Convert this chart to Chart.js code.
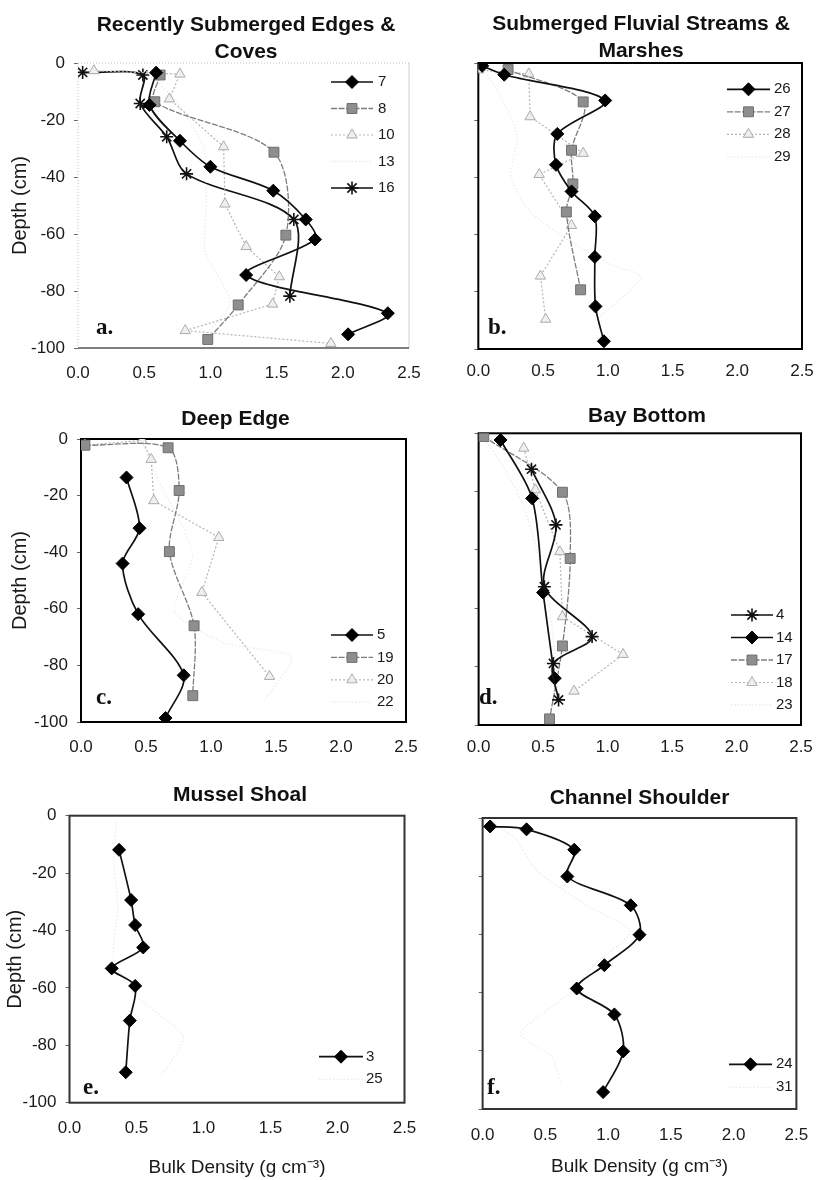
<!DOCTYPE html>
<html><head><meta charset="utf-8">
<script src="https://cdn.jsdelivr.net/npm/chart.js@4.4.1/dist/chart.umd.min.js"></script>
<style>
html,body{margin:0;padding:0;background:#fff;overflow:hidden;}
#wrap{position:relative;width:817px;height:1180px;overflow:hidden;background:#fff;}
canvas{position:absolute;}
</style></head><body><div id="wrap"></div>
<script>
// ---------- DATA ----------
const xTickValues = [0, 0.5, 1, 1.5, 2, 2.5];
const xTickLabels = ['0.0', '0.5', '1.0', '1.5', '2.0', '2.5'];
const yTickValues = [0, -20, -40, -60, -80, -100];
const yTickLabels = ['0', '-20', '-40', '-60', '-80', '-100'];
const yAxisTitle = 'Depth (cm)';
const xAxisTitle = 'Bulk Density (g cm⁻³)';

const titleA = ['Recently Submerged Edges &', 'Coves'];
const titleB = ['Submerged Fluvial Streams &', 'Marshes'];
const titleC = ['Deep Edge'];
const titleD = ['Bay Bottom'];
const titleE = ['Mussel Shoal'];
const titleF = ['Channel Shoulder'];

// [bulk density, depth]
// a. Recently Submerged Edges & Coves
const site7  = [[0.59,-3.4],[0.54,-14.7],[0.77,-27.3],[1.00,-36.4],[1.475,-44.8],[1.72,-54.9],[1.79,-61.9],[1.27,-74.4],[2.34,-87.8],[2.04,-95.2]];
const site8  = [[0.62,-4.2],[0.58,-13.6],[1.48,-31.3],[1.57,-60.4],[1.21,-84.9],[0.98,-97.0]];
const site10 = [[0.12,-2.7],[0.77,-3.9],[0.69,-12.6],[1.10,-29.4],[1.11,-49.5],[1.27,-64.4],[1.52,-75.0],[1.47,-84.6],[0.81,-93.9],[1.91,-98.4]];
const site13 = [[0.50,-2.0],[0.75,-14.0],[0.95,-30.0],[0.97,-48.0],[0.96,-66.0],[1.15,-84.0],[0.95,-96.0]];
const site16 = [[0.035,-3.3],[0.49,-4.2],[0.47,-14.2],[0.67,-25.9],[0.82,-38.9],[1.63,-54.9],[1.60,-81.8]];
// b. Submerged Fluvial Streams & Marshes
const site26 = [[0.03,-1.0],[0.20,-4.1],[0.98,-13.1],[0.61,-24.8],[0.60,-35.6],[0.72,-44.9],[0.90,-53.6],[0.90,-67.8],[0.905,-85.1],[0.97,-97.3]];
const site27 = [[0.23,-2.3],[0.81,-13.6],[0.72,-30.5],[0.73,-42.3],[0.68,-52.1],[0.79,-79.3]];
const site28 = [[0.00,-2.4],[0.39,-3.8],[0.40,-18.8],[0.81,-31.6],[0.47,-39.0],[0.72,-56.8],[0.48,-74.5],[0.52,-89.6]];
const site29 = [[0.02,-1.0],[0.15,-10.0],[0.30,-25.0],[0.25,-40.0],[0.40,-52.0],[0.70,-62.0],[1.00,-70.0],[1.26,-75.0],[0.90,-90.0]];
// c. Deep Edge
const site5  = [[0.35,-13.6],[0.45,-31.5],[0.32,-44.0],[0.44,-61.9],[0.79,-83.5],[0.65,-98.6]];
const site19 = [[0.03,-2.2],[0.67,-3.1],[0.755,-18.2],[0.68,-39.8],[0.87,-66.0],[0.86,-90.7]];
const site20 = [[0.03,-2.2],[0.47,-0.5],[0.54,-7.2],[0.56,-21.8],[1.06,-34.8],[0.93,-54.2],[1.45,-83.9]];
const site22 = [[0.47,-0.9],[0.60,-15.0],[0.75,-28.0],[0.86,-41.0],[0.72,-61.0],[1.10,-72.0],[1.62,-77.0],[1.40,-93.0]];
// d. Bay Bottom
const site4  = [[0.41,-12.3],[0.60,-31.4],[0.51,-52.6],[0.88,-69.7],[0.58,-78.9],[0.62,-91.4]];
const site14 = [[0.17,-2.3],[0.415,-22.3],[0.50,-54.6],[0.59,-84.0]];
const site17 = [[0.04,-1.1],[0.65,-20.2],[0.71,-42.9],[0.65,-72.9],[0.55,-97.9]];
const site18 = [[0.35,-5.1],[0.44,-19.4],[0.63,-40.6],[0.65,-62.9],[1.12,-75.8],[0.74,-88.4]];
const site23 = [[0.03,-1.0],[0.20,-12.0],[0.35,-25.0],[0.45,-40.0],[0.55,-60.0],[0.60,-80.0],[0.62,-95.0]];
// e. Mussel Shoal
const site3  = [[0.37,-11.9],[0.46,-29.4],[0.49,-38.1],[0.55,-45.9],[0.315,-53.2],[0.49,-59.3],[0.45,-71.4],[0.42,-89.4]];
const site25 = [[0.35,-2.0],[0.33,-15.0],[0.36,-32.0],[0.33,-50.0],[0.50,-63.0],[0.85,-77.0],[0.68,-91.0]];
// f. Channel Shoulder
const site24 = [[0.06,-2.9],[0.35,-3.9],[0.73,-10.9],[0.675,-20.1],[1.18,-30.0],[1.25,-40.1],[0.97,-50.6],[0.75,-58.6],[1.05,-67.5],[1.12,-80.2],[0.96,-94.2]];
const site31 = [[0.05,-1.0],[0.26,-7.0],[0.43,-18.0],[0.83,-30.0],[1.18,-39.0],[0.90,-50.0],[0.70,-60.0],[0.30,-74.0],[0.55,-82.0],[0.63,-92.0]];

// ---------- STYLES ----------
const FONT = '"Liberation Sans", Arial, Helvetica, sans-serif';
Chart.defaults.font.family = FONT;
Chart.defaults.color = '#1a1a1a';

const STYLE = {
  diamond:  {borderColor:'#111', borderWidth:1.7, pointStyle:'rectRot', pointRadius:6.5, pointBackgroundColor:'#000', pointBorderColor:'#000', pointBorderWidth:1, tension:0.3},
  star:     {borderColor:'#111', borderWidth:1.7, pointStyle:'star', pointRadius:6.5, pointBackgroundColor:'#111', pointBorderColor:'#111', pointBorderWidth:1.6, tension:0.3},
  square:   {borderColor:'#7d7d7d', borderWidth:1.3, borderDash:[6,1.5], pointStyle:'rect', pointRadius:7, pointBackgroundColor:'#8e8e8e', pointBorderColor:'#6e6e6e', pointBorderWidth:1, tension:0.3},
  triangle: {borderColor:'#b5b5b5', borderWidth:1.2, borderDash:[2,2], pointStyle:'triangle', pointRadius:6, pointBackgroundColor:'#efefef', pointBorderColor:'#ababab', pointBorderWidth:1, tension:0},
  faint:    {borderColor:'#ececec', borderWidth:1.3, borderDash:[1.5,2], pointStyle:'circle', pointRadius:0, pointBorderWidth:0, tension:0.2}
};

// ---------- LAYOUT (page coordinates) ----------
const panels = [
  {title:titleA, series:[['7',site7,'diamond'],['8',site8,'square'],['10',site10,'triangle'],['13',site13,'faint'],['16',site16,'star']],
   L:78, R:409, T:63, B:348, tc:246, tY:25, lh:27, yW:78, yLabels:true, yTitleX:20, xLabelGap:25, xH:40,
   frame:'light', letter:'a.', letterPos:[96,334], legend:{x1:331,x2:373,tx:378,y0:82,dy:26.5}},
  {title:titleB, series:[['26',site26,'diamond'],['27',site27,'square'],['28',site28,'triangle'],['29',site29,'faint']],
   L:468, R:802, T:63, B:349, tc:640.8, tY:24.2, lh:26.6, yW:14, yLabels:false, xLabelGap:22.7, xH:40,
   frame:'#000', letter:'b.', letterPos:[488,334], legend:{x1:727,x2:770,tx:774,y0:89.3,dy:22.5}},
  {title:titleC, series:[['5',site5,'diamond'],['19',site19,'square'],['20',site20,'triangle'],['22',site22,'faint']],
   L:81, R:406, T:439, B:722, tc:235.5, tY:419, lh:25, yW:81, yLabels:true, yTitleX:20.7, xLabelGap:25, xH:40,
   frame:'#000', letter:'c.', letterPos:[96,704], legend:{x1:331,x2:373,tx:377,y0:635,dy:22.4}},
  {title:titleD, series:[['4',site4,'star'],['14',site14,'diamond'],['17',site17,'square'],['18',site18,'triangle'],['23',site23,'faint']],
   L:469.5, R:801, T:433.3, B:725, tc:647, tY:416.2, lh:25, yW:14, yLabels:false, xLabelGap:22, xH:40,
   frame:'#000', letter:'d.', letterPos:[479,704], legend:{x1:731,x2:773,tx:776,y0:615,dy:22.5}},
  {title:titleE, series:[['3',site3,'diamond'],['25',site25,'faint']],
   L:69.5, R:404.5, T:815.7, B:1102.7, tc:240, tY:795.8, lh:25, yW:69.5, yLabels:true, yTitleX:15, xLabelGap:25.6, xH:80, xTitleY:1167.7,
   frame:'#333', letter:'e.', letterPos:[83,1094], legend:{x1:319,x2:363,tx:366,y0:1056.7,dy:22.6}},
  {title:titleF, series:[['24',site24,'diamond'],['31',site31,'faint']],
   L:469.5, R:805, T:818, B:1109, tc:639.7, tY:798.8, lh:25, yW:14, yLabels:false, xLabelGap:26, xH:80, xTitleY:1167,
   frame:'#333', letter:'f.', letterPos:[487,1094], legend:{x1:729,x2:772,tx:776,y0:1064.3,dy:23}}
];

const TITLE_SIZE = 21, TICK_SIZE = 17, YTITLE_SIZE = 20, XTITLE_SIZE = 19, LEGEND_SIZE = 15;

function computeGeom(p) {
  let boxLeft = p.L - p.yW;
  let half = p.tc - boxLeft;
  let boxRight = p.tc + half;
  if (boxRight - p.R < 14) { boxRight = p.R + 14; half = boxRight - p.tc; boxLeft = p.tc - half; }
  const cl = Math.floor(boxLeft);
  const cw = Math.round(boxRight - cl);
  const yW = p.L - cl;
  const yR = cl + cw - p.R;
  const ct = Math.round(p.tY - p.lh / 2);
  const titlePadBottom = p.T - ct - p.title.length * p.lh;
  const ch = Math.round(p.B + p.xH - ct);
  const xH = ct + ch - p.B;
  const xPad = p.xLabelGap - TICK_SIZE * 1.2 / 2;
  const yTitlePad = p.yLabels ? (p.yTitleX - cl) - YTITLE_SIZE * 1.2 / 2 : 0;
  const xTitlePad = p.xTitleY ? (ct + ch) - p.xTitleY - XTITLE_SIZE * 1.2 / 2 : 0;
  return {cl, cw, ct, ch, yW, yR, xH, titlePadBottom, xPad, yTitlePad, xTitlePad};
}

function labelFor(values, labels, v) {
  const i = values.findIndex(t => Math.abs(t - v) < 1e-6);
  return i >= 0 ? labels[i] : '';
}

function makeDecor(p, g) {
  return {
    id: 'decor',
    beforeDatasetsDraw(chart) {
      const ctx = chart.ctx, a = chart.chartArea;
      const line = (x1, y1, x2, y2) => { ctx.beginPath(); ctx.moveTo(x1, y1); ctx.lineTo(x2, y2); ctx.stroke(); };
      ctx.save();
      if (p.frame === 'light') {
        ctx.lineWidth = 1; ctx.strokeStyle = '#c2c2c2'; ctx.setLineDash([1, 2]);
        line(a.left, a.top, a.right, a.top);
        line(a.left, a.top, a.left, a.bottom);
        ctx.setLineDash([]); ctx.strokeStyle = '#cfcfcf';
        line(a.right, a.top, a.right, a.bottom);
        ctx.strokeStyle = '#555'; ctx.lineWidth = 1.6;
        line(a.left, a.bottom, a.right, a.bottom);
      } else {
        ctx.strokeStyle = p.frame; ctx.lineWidth = 2;
        ctx.strokeRect(a.left, a.top, a.right - a.left, a.bottom - a.top);
      }
      ctx.restore();
    },
    afterDraw(chart) {
      const ctx = chart.ctx, lg = p.legend;
      chart.data.datasets.forEach((ds, i) => {
        const y = lg.y0 + i * lg.dy - g.ct;
        const x1 = lg.x1 - g.cl, x2 = lg.x2 - g.cl, tx = lg.tx - g.cl;
        ctx.save();
        ctx.strokeStyle = ds.borderColor; ctx.lineWidth = ds.borderWidth;
        ctx.setLineDash(ds.borderDash || []);
        ctx.beginPath(); ctx.moveTo(x1, y); ctx.lineTo(x2, y); ctx.stroke();
        ctx.setLineDash([]);
        if (ds.pointRadius > 0) {
          ctx.fillStyle = ds.pointBackgroundColor; ctx.strokeStyle = ds.pointBorderColor; ctx.lineWidth = ds.pointBorderWidth;
          Chart.helpers.drawPoint(ctx, {pointStyle: ds.pointStyle, radius: ds.pointRadius, rotation: 0, borderWidth: ds.pointBorderWidth}, (x1 + x2) / 2, y);
        }
        ctx.fillStyle = '#1a1a1a'; ctx.font = LEGEND_SIZE + 'px ' + FONT;
        ctx.textBaseline = 'middle'; ctx.textAlign = 'left';
        ctx.fillText(ds.label, tx, y);
        ctx.restore();
      });
      ctx.save();
      ctx.fillStyle = '#111'; ctx.font = 'bold 23px "Liberation Serif", "Times New Roman", serif';
      ctx.textBaseline = 'alphabetic'; ctx.textAlign = 'left';
      ctx.fillText(p.letter, p.letterPos[0] - g.cl, p.letterPos[1] - g.ct);
      ctx.restore();
    }
  };
}

const wrap = document.getElementById('wrap');
panels.forEach(p => {
  const g = computeGeom(p);
  const canvas = document.createElement('canvas');
  canvas.width = g.cw; canvas.height = g.ch;
  canvas.style.left = g.cl + 'px'; canvas.style.top = g.ct + 'px';
  canvas.style.width = g.cw + 'px'; canvas.style.height = g.ch + 'px';
  wrap.appendChild(canvas);

  const datasets = p.series.map(([name, data, kind]) => Object.assign({
    label: name,
    data: data.map(([x, y]) => ({x, y})),
    showLine: true, fill: false
  }, STYLE[kind]));

  new Chart(canvas, {
    type: 'scatter',
    data: {datasets},
    options: {
      responsive: false, animation: false, devicePixelRatio: 1,
      layout: {padding: 0},
      events: [],
      plugins: {
        legend: {display: false},
        tooltip: {enabled: false},
        title: {display: true, text: p.title, color: '#111',
                font: {size: TITLE_SIZE, weight: 'bold', lineHeight: p.lh / TITLE_SIZE},
                padding: {top: 0, bottom: g.titlePadBottom}}
      },
      scales: {
        x: {
          type: 'linear', position: 'bottom', min: 0, max: 2.5,
          ticks: {stepSize: 0.5, autoSkip: false, maxRotation: 0, minRotation: 0, padding: g.xPad,
                  font: {size: TICK_SIZE}, color: '#1a1a1a',
                  callback: v => labelFor(xTickValues, xTickLabels, v)},
          grid: {display: false, drawTicks: false},
          border: {display: false},
          title: {display: !!p.xTitleY, text: xAxisTitle, color: '#1a1a1a', font: {size: XTITLE_SIZE},
                  padding: {top: 0, bottom: g.xTitlePad}},
          afterFit: s => { s.height = g.xH; }
        },
        y: {
          type: 'linear', position: 'left', min: -100, max: 0,
          ticks: {display: p.yLabels, stepSize: 20, padding: 9, font: {size: TICK_SIZE}, color: '#1a1a1a',
                  callback: v => labelFor(yTickValues, yTickLabels, v)},
          grid: {display: true, drawOnChartArea: false, drawTicks: true, tickLength: 4, color: '#666'},
          border: {display: false},
          title: {display: p.yLabels, text: yAxisTitle, color: '#1a1a1a', font: {size: YTITLE_SIZE},
                  padding: {top: g.yTitlePad, bottom: 0}},
          afterFit: s => { s.width = g.yW; }
        },
        yR: {
          type: 'linear', position: 'right', display: true,
          ticks: {display: false}, grid: {display: false, drawTicks: false}, border: {display: false},
          afterFit: s => { s.width = g.yR; }
        }
      }
    },
    plugins: [makeDecor(p, g)]
  });
});
</script>
</body></html>
